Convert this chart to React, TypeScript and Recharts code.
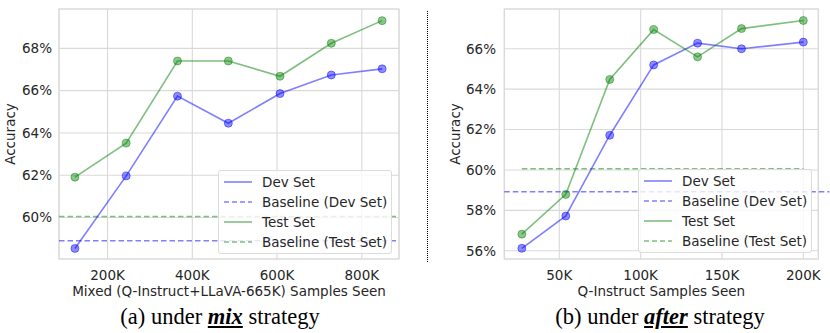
import { LineChart, Line, XAxis, YAxis, CartesianGrid, ReferenceLine, ReferenceArea } from 'recharts'

// (a) mix strategy, x in thousands of samples
const mixSamples = [123, 244, 365, 485, 607, 728, 848]
const mixDev = [58.54, 61.97, 65.74, 64.46, 65.86, 66.74, 67.03]
const mixTest = [61.91, 63.52, 67.4, 67.4, 66.68, 68.24, 69.31]
const mixBaseDev = 58.9
const mixBaseTest = 60.05
const mixXTicks = [200, 400, 600, 800]
const mixYTicks = [60, 62, 64, 66, 68]

// (b) after strategy
const afterSamples = [27, 54, 81, 108, 135, 162, 200]
const afterDev = [56.12, 57.72, 61.72, 65.2, 66.28, 66.0, 66.33]
const afterTest = [56.82, 58.79, 64.48, 66.95, 65.6, 67.0, 67.4]
const afterBaseDev = 58.92
const afterBaseTest = 60.06
const afterXTicks = [50, 100, 150, 200]
const afterYTicks = [56, 58, 60, 62, 64, 66]

const legendNames = ['Dev Set', 'Baseline (Dev Set)', 'Test Set', 'Baseline (Test Set)']

const BLUE = '#0000ff'
const GREEN = '#008000'
const TEXT = '#262626'
const GRID = '#d9d9d9'
const SANS = '"DejaVu Sans", sans-serif'
const SERIF = '"Liberation Serif", "Times New Roman", serif'
const FS = 13.5

const tickStyle = { fill: TEXT, fontSize: FS, fontFamily: SANS }

function Legend({ left, top }: { left: number; top: number }) {
  const colors = [BLUE, BLUE, GREEN, GREEN]
  return (
    <div
      style={{
        position: 'absolute',
        left,
        top,
        width: 172,
        height: 81,
        background: 'rgba(255,255,255,0.8)',
        border: '1px solid #dcdcdc',
        borderRadius: 3,
        fontFamily: SANS,
        fontSize: FS,
        color: TEXT,
        paddingTop: 1
      }}
    >
      {legendNames.map((name, i) => (
        <div key={name} style={{ height: 20, display: 'flex', alignItems: 'center', whiteSpace: 'nowrap' }}>
          <svg width={43} height={20} style={{ flex: 'none' }}>
            <line
              x1={5}
              x2={33}
              y1={10}
              y2={10}
              stroke={colors[i]}
              strokeOpacity={0.5}
              strokeWidth={1.6}
              strokeDasharray={i % 2 === 1 ? '5 3' : undefined}
            />
          </svg>
          <span>{name}</span>
        </div>
      ))}
    </div>
  )
}

interface PanelProps {
  samples: number[]
  dev: number[]
  test: number[]
  baseDev: number
  baseTest: number
  xTicks: number[]
  yTicks: number[]
  xDomain: [number, number]
  yDomain: [number, number]
  xLabel: string
  yAxisWidth: number
  marginRight: number
  labelOffset: number
  tickGap: number
  after?: boolean
}

function Panel(p: PanelProps) {
  const data = p.samples.map((x, i) => ({ x, dev: p.dev[i], test: p.test[i] }))
  const dot = (c: string) => ({ r: 4, fill: c, fillOpacity: 0.45, stroke: c, strokeOpacity: 0.45, strokeWidth: 1 })
  return (
    <LineChart
      width={415}
      height={300}
      data={data}
      margin={{ top: 9, right: p.marginRight, bottom: 0, left: 0 }}
    >
      <CartesianGrid stroke={GRID} strokeWidth={1.1} />
      <ReferenceArea
        x1={p.xDomain[0]}
        x2={p.xDomain[1]}
        y1={p.yDomain[0]}
        y2={p.yDomain[1]}
        fill="none"
        stroke={GRID}
        strokeWidth={1.1}
      />
      <XAxis
        type="number"
        dataKey="x"
        domain={p.xDomain}
        ticks={p.xTicks}
        allowDataOverflow
        tickFormatter={(v) => `${v}K`}
        axisLine={false}
        tickLine={false}
        tickSize={0}
        tickMargin={11.9}
        height={41}
        tick={tickStyle}
        label={{ value: p.xLabel, position: 'insideBottom', offset: 4.5, fill: TEXT, fontSize: FS, fontFamily: SANS }}
      />
      <YAxis
        type="number"
        domain={p.yDomain}
        ticks={p.yTicks}
        allowDataOverflow
        tickFormatter={(v) => `${v}%`}
        axisLine={false}
        tickLine={false}
        tickSize={0}
        tickMargin={p.tickGap}
        width={p.yAxisWidth}
        tick={tickStyle}
        label={{
          value: 'Accuracy',
          angle: -90,
          position: 'insideLeft',
          offset: p.labelOffset,
          fill: TEXT,
          fontSize: FS,
          fontFamily: SANS,
          style: { textAnchor: 'middle' }
        }}
      />
      {p.after ? (
        <ReferenceLine
          segment={[{ x: p.xDomain[0], y: p.baseDev }, { x: 216, y: p.baseDev }]}
          ifOverflow="visible"
          stroke={BLUE}
          strokeOpacity={0.5}
          strokeWidth={1.6}
          strokeDasharray="5.5 3"
        />
      ) : (
        <ReferenceLine y={p.baseDev} stroke={BLUE} strokeOpacity={0.5} strokeWidth={1.6} strokeDasharray="5.5 3" />
      )}
      {p.after ? (
        <ReferenceLine
          segment={[{ x: p.samples[0], y: p.baseTest }, { x: p.samples[p.samples.length - 1], y: p.baseTest }]}
          stroke={GREEN}
          strokeOpacity={0.5}
          strokeWidth={1.6}
          strokeDasharray="5.5 3"
        />
      ) : (
        <ReferenceLine y={p.baseTest} stroke={GREEN} strokeOpacity={0.5} strokeWidth={1.6} strokeDasharray="5.5 3" />
      )}
      <Line
        type="linear"
        dataKey="dev"
        stroke={BLUE}
        strokeOpacity={0.5}
        strokeWidth={1.6}
        dot={dot(BLUE)}
        isAnimationActive={false}
      />
      <Line
        type="linear"
        dataKey="test"
        stroke={GREEN}
        strokeOpacity={0.5}
        strokeWidth={1.6}
        dot={dot(GREEN)}
        isAnimationActive={false}
      />
    </LineChart>
  )
}

function Caption({ center, label, word }: { center: number; label: string; word: string }) {
  return (
    <div
      style={{
        position: 'absolute',
        left: center - 150,
        width: 300,
        top: 306,
        textAlign: 'center',
        fontFamily: SERIF,
        fontSize: 22.5,
        lineHeight: '22.5px',
        color: '#000',
        whiteSpace: 'nowrap'
      }}
    >
      {label} under{' '}
      <b>
        <i>
          <u>{word}</u>
        </i>
      </b>{' '}
      strategy
    </div>
  )
}

export default function App() {
  return (
    <div style={{ position: 'absolute', left: 0, top: 0, width: 830, height: 333, background: '#fff' }}>
      <div style={{ position: 'absolute', left: 0, top: 0 }}>
        <Panel
          samples={mixSamples}
          dev={mixDev}
          test={mixTest}
          baseDev={mixBaseDev}
          baseTest={mixBaseTest}
          xTicks={mixXTicks}
          yTicks={mixYTicks}
          xDomain={[85.4, 887.8]}
          yDomain={[58.04, 69.86]}
          xLabel="Mixed (Q-Instruct+LLaVA-665K) Samples Seen"
          yAxisWidth={59}
          marginRight={16}
          labelOffset={10.7}
          tickGap={7}
        />
      </div>
      <div style={{ position: 'absolute', left: 415, top: 0 }}>
        <Panel
          samples={afterSamples}
          dev={afterDev}
          test={afterTest}
          baseDev={afterBaseDev}
          baseTest={afterBaseTest}
          xTicks={afterXTicks}
          yTicks={afterYTicks}
          xDomain={[16.2, 209.2]}
          yDomain={[55.59, 67.97]}
          xLabel="Q-Instruct Samples Seen"
          yAxisWidth={89.3}
          marginRight={11.7}
          labelOffset={40.7}
          tickGap={8.3}
          after
        />
      </div>
      <Legend left={218} top={170} />
      <Legend left={638} top={169} />
      <div
        style={{
          position: 'absolute',
          left: 427,
          top: 11,
          height: 251,
          borderLeft: '1px dotted #000'
        }}
      />
      <Caption center={220} label="(a)" word="mix" />
      <Caption center={660} label="(b)" word="after" />
    </div>
  )
}
